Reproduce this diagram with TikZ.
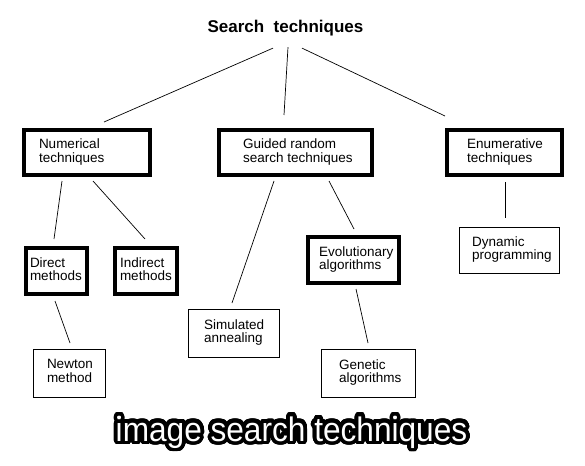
\documentclass[tikz,border=0pt]{standalone}
\usepackage{fontspec}
\setmainfont{Liberation Sans}
\newfontfamily\capfont[FakeStretch=0.93]{Liberation Sans}
\usepackage{contour}
\contourlength{3.8pt}
\contournumber{48}

\begin{document}
\begin{tikzpicture}[
  x=1pt, y=-1pt,
  font=\fontsize{13.5}{13}\selectfont,
  heavy/.style={draw=black, line width=4pt, outer sep=0pt, inner sep=0pt},
  plain/.style={draw=black, line width=0.8pt, outer sep=0pt, inner sep=0pt},
  conn/.style={draw=black, line width=0.7pt},
]
\useasboundingbox (0,0) rectangle (585,465);
% ---- box macro: #1 id #2 style #3 left #4 top #5 right #6 bottom #7 indent #8 text ----
\newcommand{\bx}[8]{%
  \pgfmathsetmacro{\bw}{#5-#3}\pgfmathsetmacro{\bh}{#6-#4}%
  \node[#2, anchor=north west, minimum width=\bw pt, minimum height=\bh pt] (#1) at (#3,#4)
    {\makebox[\bw pt][l]{\hspace*{#7pt}\begin{tabular}{@{}l@{}}#8\end{tabular}}};%
}

% ======================= root =======================
\node[font=\fontsize{17}{17}\selectfont\bfseries, inner sep=0pt] (title) at (285.5,28)
  {Search\hspace{0.55em}techniques};

% ======================= first level =======================
\bx{num}{heavy}{24}{130}{150}{175}{15}{Numerical\\techniques}
\bx{guided}{heavy}{219}{130}{372}{175}{24}{Guided random\\search techniques}
\bx{enum}{heavy}{447}{130}{562}{175}{20}{Enumerative\\techniques}

% ======================= second level =======================
\bx{direct}{heavy}{26}{248}{87}{294}{4}{Direct\\methods}
\bx{indirect}{heavy}{115}{248}{177}{294}{5}{Indirect\\methods}
\bx{sim}{plain}{188}{309}{279}{357}{16}{Simulated\\annealing}
\bx{evo}{heavy}{308}{237}{399}{283}{11}{Evolutionary\\algorithms}
\bx{dyn}{plain}{459}{227}{559}{273}{13}{Dynamic\\programming}

% ======================= third level =======================
\bx{newton}{plain}{33}{349}{105}{397}{14}{Newton\\method}
\bx{gen}{plain}{321}{349}{415}{397}{18}{Genetic\\algorithms}

% ======================= edges =======================
\draw[conn] ([shift={(-12.5,12)}]title.south) -- ([shift={(17,-8)}]num.north);
\draw[conn] ([shift={(2.5,11)}]title.south)   -- ([shift={(-11.5,-15)}]guided.north);
\draw[conn] ([shift={(16.5,12)}]title.south)  -- ([shift={(-2,-14)}]enum.north west);

\draw[conn] ([shift={(-25,6)}]num.south) -- ([shift={(-2.5,-9)}]direct.north);
\draw[conn] ([shift={(6,6)}]num.south)   -- ([shift={(-1,-9)}]indirect.north);
\draw[conn] ([shift={(-1.5,7)}]direct.south) -- ([shift={(1,-6)}]newton.north);

\draw[conn] ([shift={(-21.5,6)}]guided.south) -- ([shift={(-1.5,-6)}]sim.north);
\draw[conn] ([shift={(33.5,6)}]guided.south)  -- ([shift={(0.5,-8)}]evo.north);
\draw[conn] ([shift={(2.5,6)}]evo.south) -- ([shift={(0,-6)}]gen.north);

\draw[conn] ([shift={(0.5,7)}]enum.south) -- ([shift={(-4,-9)}]dyn.north);

% ======================= caption =======================
\node[font=\capfont\fontsize{34}{34}\selectfont, text=white, anchor=base, inner sep=0pt]
  (caption) at (291.5,441) {\contour{black}{image search techniques}};
\end{tikzpicture}
\end{document}
